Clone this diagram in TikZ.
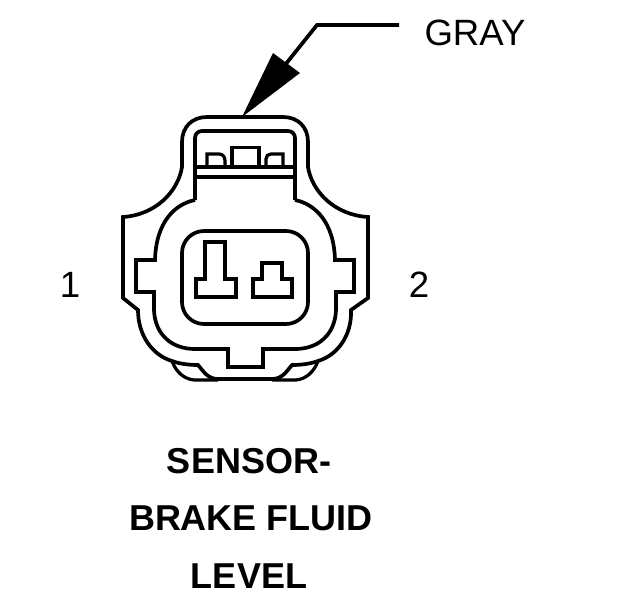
\documentclass[tikz,border=0pt]{standalone}
\usepackage{fontspec}
\setmainfont{Liberation Sans}
\tikzset{
  ink/.style={draw=black,line width=3.7pt,line join=miter,fill=none},
  thin ink/.style={draw=black,line width=3.2pt,line join=miter},
  lbl/.style={font=\fontsize{36.6}{37}\selectfont,inner sep=0pt,text=black},
  title/.style={font=\fontsize{36}{37}\selectfont\bfseries,inner sep=0pt,text=black}
}
\begin{document}
\begin{tikzpicture}[x=1pt,y=-1pt]
\useasboundingbox (0,0) rectangle (624,600);
\fill[white] (0,0) rectangle (624,600);
% labels
\node[lbl] (gray) at (475,33) {GRAY};
\node[lbl] (one) at (70,285) {1};
\node[lbl] (two) at (419,285) {2};
\node[title] (t1) at (249,461) {SENSOR-};
\node[title] (t2) at (251,518) {BRAKE FLUID};
\node[title] (t3) at (249,576) {LEVEL};
% leader
\coordinate (leadend) at (399,25);
\coordinate (leadbend) at (317,25);
\coordinate (leadin) at (285,65);
\coordinate (tip) at (242,117);
\draw[ink] (leadend) -- (leadbend) -- (leadin);
\fill[black] (tip) -- (273,53) -- (300,73) -- cycle;
% outer shell
\draw[ink] (207,117) -- (283,117)
  .. controls (298,117) and (308,127) .. (308,142)
  -- (308,167)
  .. controls (312,192) and (335,215) .. (368,217)
  -- (368,298) -- (351,310)
  .. controls (352,335) and (338,355) .. (318,361)
  .. controls (310,364) and (300,365) .. (292,365)
  .. controls (286,372) and (282,379) .. (272,379)
  -- (218,379)
  .. controls (208,379) and (204,372) .. (198,365)
  .. controls (190,365) and (180,364) .. (172,361)
  .. controls (152,355) and (138,335) .. (138,310)
  -- (123,298) -- (123,217)
  .. controls (155,215) and (178,192) .. (182,167)
  -- (182,142)
  .. controls (182,127) and (192,117) .. (207,117) -- cycle;
% lower lip
\draw[thin ink] (172,361) .. controls (176,372) and (184,379) .. (194,380) -- (218,380);
\draw[thin ink] (318,361) .. controls (314,372) and (306,379) .. (296,380) -- (272,380);
% inner top frame
\draw[ink] (195,200) -- (195,138) .. controls (195,134) and (198,131) .. (202,131)
  -- (288,131) .. controls (292,131) and (295,134) .. (295,138) -- (295,200);
% bars
\draw[ink] (195,167) -- (295,167);
\draw[ink] (195,177) -- (295,177);
% teeth
\draw[thin ink] (207,167) -- (207,154) -- (219,154) .. controls (223,154) and (225,157) .. (225,161) -- (225,167);
\draw[thin ink] (232,167) -- (232,147.5) -- (259,147.5) -- (259,167);
\draw[thin ink] (266,167) -- (266,159) .. controls (266,156) and (268,154) .. (271,154) -- (283,154) -- (283,167);
% inner collar
\draw[ink] (195,200)
  .. controls (175,204) and (156,222) .. (155,260)
  -- (136,260) -- (136,292) -- (154,292) -- (154,310)
  .. controls (155,335) and (172,349) .. (195,349)
  -- (228,349) -- (228,367) -- (263,367) -- (263,349)
  -- (295,349)
  .. controls (318,349) and (335,335) .. (336,310)
  -- (336,292) -- (354,292) -- (354,260) -- (335,260)
  .. controls (334,222) and (315,204) .. (295,200);
% socket
\draw[ink,rounded corners=22pt] (182,231) rectangle (308,324);
% terminals
\draw[ink] (205,242) -- (225,242) -- (225,279) -- (236,279) -- (236,297) -- (196,297) -- (196,279) -- (205,279) -- cycle;
\draw[ink] (262,263) -- (282,263) -- (282,279) -- (292,279) -- (292,297) -- (253,297) -- (253,279) -- (262,279) -- cycle;
\end{tikzpicture}
\end{document}
